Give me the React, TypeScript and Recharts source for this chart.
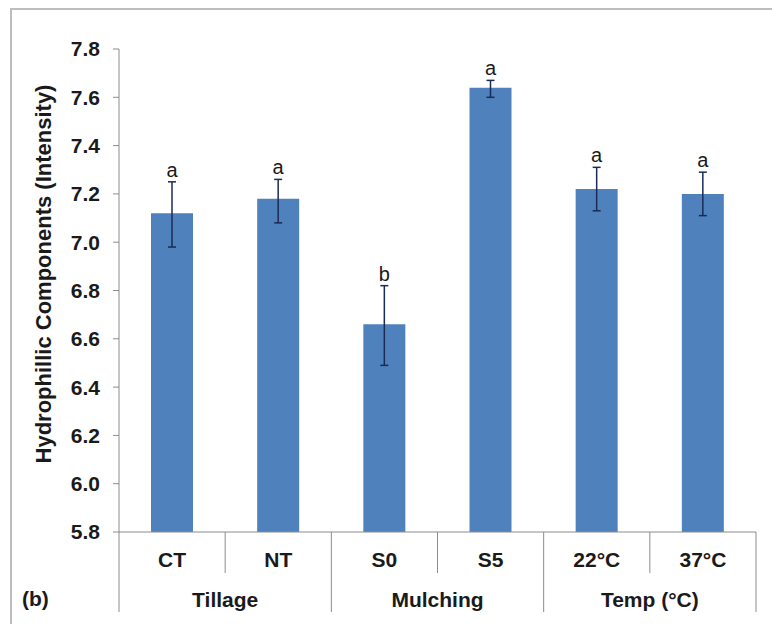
import React from "react";
import { Bar, BarChart, ErrorBar, LabelList, XAxis, YAxis } from "recharts";

const categories = ["CT", "NT", "S0", "S5", "22°C", "37°C"];
const groups = ["Tillage", "Mulching", "Temp (°C)"];
const groupSizes = [2, 2, 2];
const means = [7.12, 7.18, 6.66, 7.64, 7.22, 7.2];
const errLow = [0.14, 0.1, 0.17, 0.04, 0.09, 0.09];
const errHigh = [0.13, 0.08, 0.16, 0.03, 0.09, 0.09];
const letters = ["a", "a", "b", "a", "a", "a"];
const yTicks = [5.8, 6.0, 6.2, 6.4, 6.6, 6.8, 7.0, 7.2, 7.4, 7.6, 7.8];

const W = 772;
const H = 624;
const MARGIN = { top: 49, right: 16, bottom: 0, left: 0 };
const Y_AXIS_W = 119;
const X_AXIS_H = 92;
const BAND = (W - MARGIN.left - MARGIN.right - Y_AXIS_W) / categories.length;

const FONT = "'Liberation Sans', Arial, sans-serif";
const AXIS = "#8c8c8c";
const TEXT = "#1a1a1a";

const data = categories.map((name, i) => ({
  name,
  mean: means[i],
  err: [errLow[i], errHigh[i]],
  letter: letters[i],
}));

// first category index of each group
const groupStarts = groupSizes.map((_, g) => groupSizes.slice(0, g).reduce((a, b) => a + b, 0));

function CategoryTick(props: any) {
  const { x, y, payload, index } = props;
  const half = BAND / 2;
  const g = groupStarts.findIndex((s, k) => index >= s && index < s + groupSizes[k]);
  const isGroupEnd = index === groupStarts[g] + groupSizes[g] - 1;
  const isGroupStart = index === groupStarts[g];
  return (
    <g>
      {index === 0 && <line x1={x - half} y1={y} x2={x - half} y2={y + 80} stroke={AXIS} />}
      <line x1={x + half} y1={y} x2={x + half} y2={y + (isGroupEnd ? 80 : 41)} stroke={AXIS} />
      <text x={x} y={y + 35} textAnchor="middle" fontFamily={FONT} fontWeight="bold" fontSize={21} fill={TEXT}>
        {payload.value}
      </text>
      {isGroupStart && (
        <text
          x={x - half + (groupSizes[g] * BAND) / 2}
          y={y + 75}
          textAnchor="middle"
          fontFamily={FONT}
          fontWeight="bold"
          fontSize={21}
          fill={TEXT}
        >
          {groups[g]}
        </text>
      )}
    </g>
  );
}

function LetterLabel(props: any) {
  const { x, y, width, height, value, index } = props;
  // pixels per unit, taken from the drawn bar itself
  const k = height / (means[index] - 5.8);
  const top = y - errHigh[index] * k;
  return (
    <text x={x + width / 2} y={top - 5} textAnchor="middle" fontFamily={FONT} fontSize={20} fill={TEXT}>
      {value}
    </text>
  );
}

export default function App() {
  return (
    <div style={{ position: "absolute", left: 0, top: 0, width: W, height: H, background: "#fff" }}>
      <div
        style={{
          position: "absolute",
          left: 10,
          top: 8,
          right: 0,
          bottom: 0,
          borderTop: "2px solid #bdbdbd",
          borderLeft: "2px solid #bdbdbd",
        }}
      />
      <BarChart width={W} height={H} data={data} margin={MARGIN}>
        <XAxis
          dataKey="name"
          height={X_AXIS_H}
          tickLine={false}
          tickSize={0}
          tickMargin={0}
          interval={0}
          axisLine={{ stroke: AXIS }}
          tick={<CategoryTick />}
        />
        <YAxis
          width={Y_AXIS_W}
          domain={[5.8, 7.8]}
          ticks={yTicks}
          interval={0}
          tickFormatter={(v: number) => v.toFixed(1)}
          tickSize={6}
          tickMargin={13}
          axisLine={{ stroke: AXIS }}
          tickLine={{ stroke: AXIS }}
          tick={{ fill: TEXT, fontFamily: FONT, fontWeight: "bold", fontSize: 21 }}
          label={{
            content: () => (
              <text
                x={0}
                y={0}
                transform="translate(51 274) rotate(-90)"
                textAnchor="middle"
                fontFamily={FONT}
                fontWeight="bold"
                fontSize={22}
                fill={TEXT}
              >
                Hydrophillic Components (Intensity)
              </text>
            ),
          }}
        />
        <Bar dataKey="mean" fill="#4F81BD" barSize={42} isAnimationActive={false}>
          <ErrorBar dataKey="err" stroke="#1c2a55" strokeWidth={1.5} width={4} isAnimationActive={false} />
          <LabelList dataKey="letter" content={<LetterLabel />} />
        </Bar>
      </BarChart>
      <div
        style={{
          position: "absolute",
          left: 22,
          top: 587,
          fontFamily: FONT,
          fontWeight: "bold",
          fontSize: 21,
          color: TEXT,
        }}
      >
        (b)
      </div>
    </div>
  );
}
